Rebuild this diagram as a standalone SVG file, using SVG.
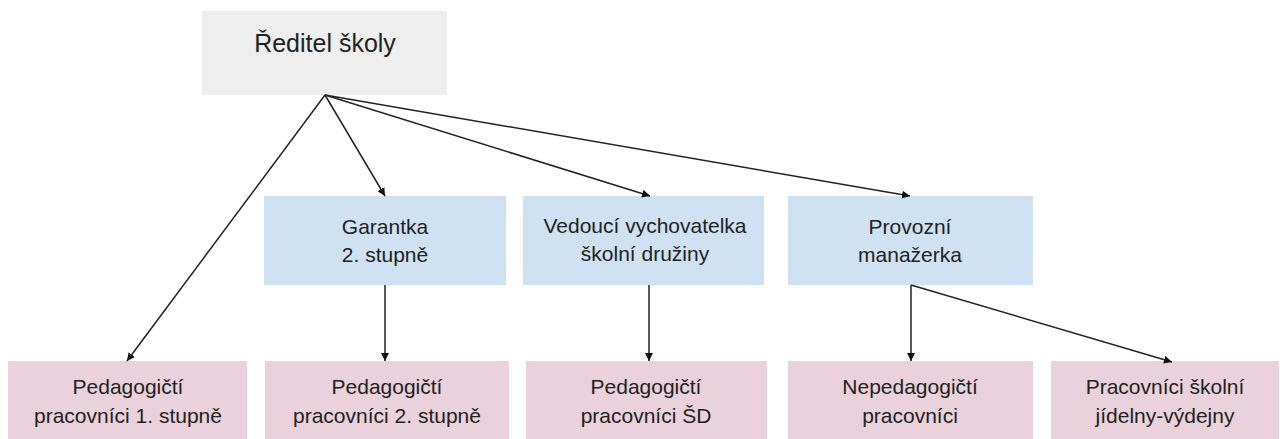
<svg xmlns="http://www.w3.org/2000/svg" width="1284" height="439" viewBox="0 0 1284 439">
<style>
.t{font-family:"Liberation Sans",Arial,sans-serif;fill:#222;text-anchor:middle}
.s{font-size:21px}
.top{fill:#eeeeee}
.blue{fill:#cfe2f3}
.pink{fill:#ead1dc}
.c{stroke:#222;stroke-width:1.5;fill:none;marker-end:url(#ah)}
</style>
<defs>
<marker id="ah" viewBox="0 0 10 10" refX="10" refY="5" markerWidth="8" markerHeight="8" markerUnits="userSpaceOnUse" orient="auto">
<path d="M0,0 L10,5 L0,10 z" fill="#111"/>
</marker>
</defs>
<rect width="1284" height="439" fill="#fff"/>
<g id="n-reditel"><rect class="top" x="202" y="11" width="245" height="84"/><text class="t" x="325" y="52" font-size="25">Ředitel školy</text></g>
<g id="n-garantka"><rect class="blue" x="264" y="196" width="242" height="89"/><text class="t s" x="385" y="234">Garantka</text><text class="t s" x="385" y="262">2. stupně</text></g>
<g id="n-vedouci"><rect class="blue" x="523" y="196" width="241" height="89"/><text class="t s" x="645" y="233">Vedoucí vychovatelka</text><text class="t s" x="645" y="261">školní družiny</text></g>
<g id="n-provozni"><rect class="blue" x="788" y="196" width="245" height="89"/><text class="t s" x="910" y="234">Provozní</text><text class="t s" x="910" y="262">manažerka</text></g>
<g id="n-ped1"><rect class="pink" x="8" y="361" width="239" height="78"/><text class="t s" x="128" y="394">Pedagogičtí</text><text class="t s" x="128" y="423">pracovníci 1. stupně</text></g>
<g id="n-ped2"><rect class="pink" x="265" y="361" width="244" height="78"/><text class="t s" x="387" y="394">Pedagogičtí</text><text class="t s" x="387" y="423">pracovníci 2. stupně</text></g>
<g id="n-pedsd"><rect class="pink" x="526" y="361" width="241" height="78"/><text class="t s" x="646" y="394">Pedagogičtí</text><text class="t s" x="646" y="423">pracovníci ŠD</text></g>
<g id="n-neped"><rect class="pink" x="788" y="361" width="245" height="78"/><text class="t s" x="910" y="394">Nepedagogičtí</text><text class="t s" x="910" y="423">pracovníci</text></g>
<g id="n-jidelna"><rect class="pink" x="1051" y="361" width="228" height="78"/><text class="t s" x="1165" y="394">Pracovníci školní</text><text class="t s" x="1165" y="423">jídelny-výdejny</text></g>
<g id="connectors">
<line class="c" x1="325" y1="95" x2="127" y2="361"/>
<line class="c" x1="325" y1="95" x2="385" y2="196"/>
<line class="c" x1="325" y1="95" x2="650" y2="196"/>
<line class="c" x1="325" y1="95" x2="910" y2="196"/>
<line class="c" x1="385" y1="285" x2="385" y2="361"/>
<line class="c" x1="649" y1="285" x2="649" y2="361"/>
<line class="c" x1="911" y1="285" x2="911" y2="361"/>
<line class="c" x1="911" y1="285" x2="1172" y2="362"/>
</g>
</svg>
